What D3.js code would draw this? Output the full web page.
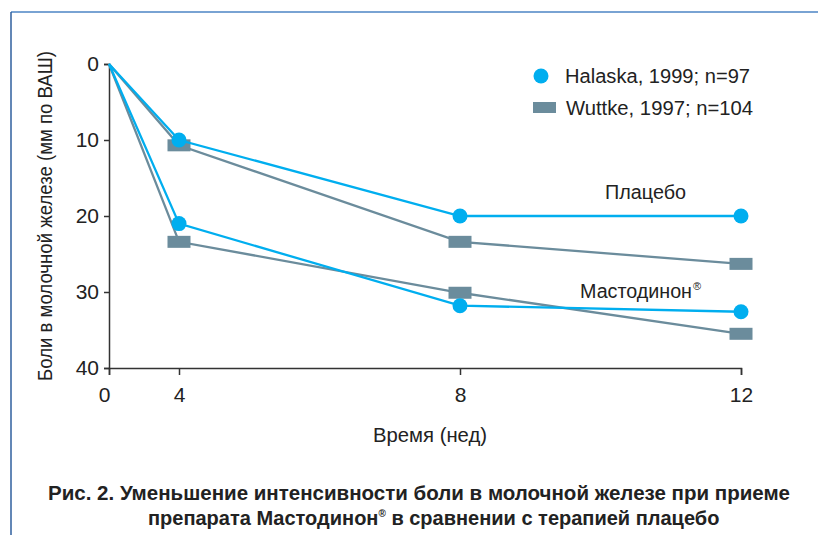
<!DOCTYPE html>
<html>
<head>
<meta charset="utf-8">
<script src="https://cdn.jsdelivr.net/npm/d3@7"></script>
<style>
  body { margin: 0; background: #fff; }
  svg { display: block; }
</style>
</head>
<body>
<svg id="chart" width="818" height="535"></svg>
<script>
// data
var weeks = [0, 4, 8, 12];
var halaskaPlacebo = [0, 10, 20, 20];
var halaskaMasto = [0, 21, 31.8, 32.6];
var wuttkePlacebo = [0, 10.7, 23.4, 26.3];
var wuttkeMasto = [0, 23.4, 30.1, 35.5];
var yTicks = [0, 10, 20, 30, 40];
var xTicks = [0, 4, 8, 12];

var blue = '#00aeef';
var grey = '#6b8c9c';
var ink = '#222';
var font = '"Liberation Sans", Arial, sans-serif';

var svg = d3.select('#chart');

// frame lines (top and left)
svg.append('line').attr('x1', 11).attr('y1', 12).attr('x2', 818).attr('y2', 12)
  .attr('stroke', '#4d84c4').attr('stroke-width', 1.5);
svg.append('line').attr('x1', 11).attr('y1', 12).attr('x2', 11).attr('y2', 535)
  .attr('stroke', '#2f5f9e').attr('stroke-width', 1.5);

// the time axis is not linear: 0-4 is squeezed
var x = d3.scaleLinear().domain([0, 4, 8, 12]).range([109, 179, 460, 741]);
var y = d3.scaleLinear().domain([0, 40]).range([64, 368]);

var yAxis = d3.axisLeft(y).tickValues(yTicks).tickSize(5).tickPadding(5);
var gy = svg.append('g').attr('transform', 'translate(109,0)').call(yAxis);
gy.selectAll('text').attr('font-size', 21).attr('font-family', font).attr('fill', ink);

var xAxis = d3.axisBottom(x).tickValues(xTicks).tickSize(7).tickPadding(12);
var gx = svg.append('g').attr('transform', 'translate(0,368)').call(xAxis);
gx.selectAll('text').attr('font-size', 21).attr('font-family', font).attr('fill', ink);
gx.select('.tick text').attr('dx', -5);

svg.selectAll('.domain').attr('stroke', '#333').attr('stroke-width', 1.5);
svg.selectAll('.tick line').attr('stroke', '#333').attr('stroke-width', 1.5);

// series
var line = d3.line().x(function(d, i) { return x(weeks[i]); }).y(function(d) { return y(d); });

function drawSeries(vals, color, shape) {
  svg.append('path').datum(vals).attr('d', line)
    .attr('fill', 'none').attr('stroke', color).attr('stroke-width', 2.3);
  var pts = vals.slice(1);
  if (shape === 'rect') {
    svg.selectAll(null).data(pts).enter().append('rect')
      .attr('x', function(d, i) { return x(weeks[i + 1]) - 11.5; })
      .attr('y', function(d) { return y(d) - 6; })
      .attr('width', 23).attr('height', 12)
      .attr('fill', color);
  } else {
    svg.selectAll(null).data(pts).enter().append('circle')
      .attr('cx', function(d, i) { return x(weeks[i + 1]); })
      .attr('cy', function(d) { return y(d); })
      .attr('r', 7.5)
      .attr('fill', color);
  }
}

drawSeries(wuttkePlacebo, grey, 'rect');
drawSeries(wuttkeMasto, grey, 'rect');
drawSeries(halaskaPlacebo, blue, 'circle');
drawSeries(halaskaMasto, blue, 'circle');

// legend
svg.append('circle').attr('cx', 541).attr('cy', 76).attr('r', 7.5).attr('fill', blue);
svg.append('rect').attr('x', 533).attr('y', 102).attr('width', 23).attr('height', 11).attr('fill', grey);
svg.append('text').attr('x', 565).attr('y', 83).text('Halaska, 1999; n=97')
  .attr('font-family', font).attr('font-size', 20).attr('fill', ink)
  .attr('textLength', 185).attr('lengthAdjust', 'spacingAndGlyphs');
svg.append('text').attr('x', 566).attr('y', 115).text('Wuttke, 1997; n=104')
  .attr('font-family', font).attr('font-size', 20).attr('fill', ink)
  .attr('textLength', 187).attr('lengthAdjust', 'spacingAndGlyphs');

// group labels
svg.append('text').attr('x', 605).attr('y', 199).text('Плацебо')
  .attr('font-family', font).attr('font-size', 20).attr('fill', ink)
  .attr('textLength', 81).attr('lengthAdjust', 'spacingAndGlyphs');
svg.append('text').attr('x', 580).attr('y', 298).text('Мастодинон')
  .attr('font-family', font).attr('font-size', 20).attr('fill', ink)
  .attr('textLength', 112).attr('lengthAdjust', 'spacingAndGlyphs');
svg.append('text').attr('x', 693).attr('y', 290).text('®')
  .attr('font-family', font).attr('font-size', 11).attr('fill', ink);

// axis titles
svg.append('text')
  .attr('transform', 'translate(52,216) rotate(-90)')
  .attr('text-anchor', 'middle')
  .text('Боли в молочной железе (мм по ВАШ)')
  .attr('font-family', font).attr('font-size', 20).attr('fill', ink)
  .attr('textLength', 330).attr('lengthAdjust', 'spacingAndGlyphs');

svg.append('text').attr('x', 430).attr('y', 442).attr('text-anchor', 'middle')
  .text('Время (нед)')
  .attr('font-family', font).attr('font-size', 20).attr('fill', ink)
  .attr('textLength', 114).attr('lengthAdjust', 'spacingAndGlyphs');

// caption
svg.append('text').attr('x', 48).attr('y', 500)
  .text('Рис. 2. Уменьшение интенсивности боли в молочной железе при приеме')
  .attr('font-family', font).attr('font-size', 20).attr('font-weight', 'bold').attr('fill', ink)
  .attr('textLength', 742).attr('lengthAdjust', 'spacingAndGlyphs');
var c2 = svg.append('text').attr('x', 148).attr('y', 525)
  .attr('font-family', font).attr('font-size', 20).attr('font-weight', 'bold').attr('fill', ink);
c2.append('tspan').text('препарата Мастодинон');
c2.append('tspan').text('®').attr('font-size', 10).attr('dy', -8);
c2.append('tspan').text(' в сравнении с терапией плацебо').attr('dy', 8);
</script>
</body>
</html>
